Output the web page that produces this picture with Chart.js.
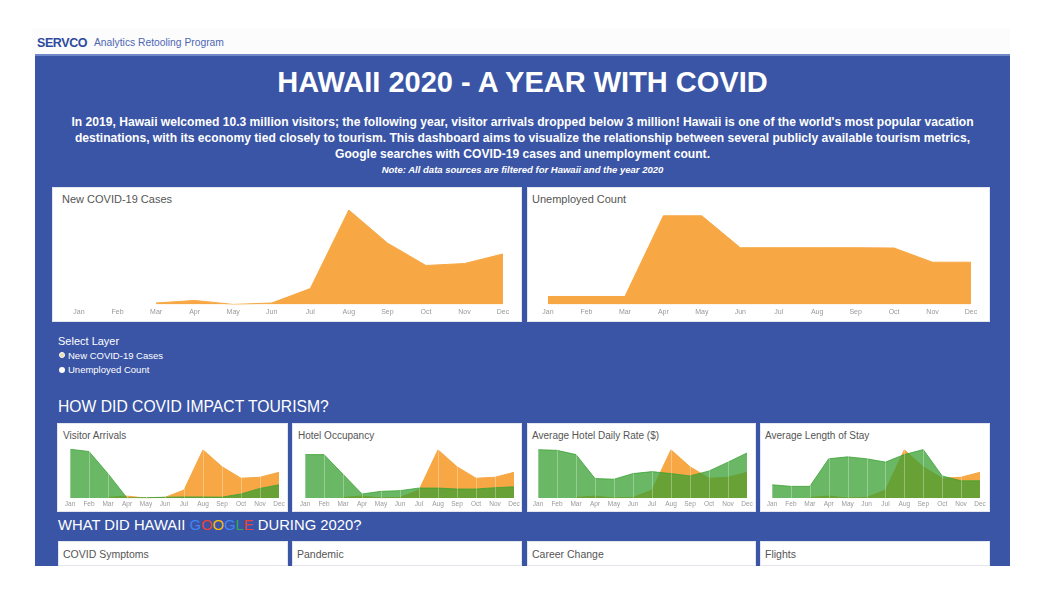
<!DOCTYPE html>
<html><head><meta charset="utf-8">
<script src="https://cdn.jsdelivr.net/npm/chart.js@4.4.0/dist/chart.umd.min.js"></script>
<style>
body{margin:0;width:1048px;height:590px;background:#fff;position:relative;overflow:hidden;font-family:"Liberation Sans",Arial,sans-serif;}
.a{position:absolute;}
#hdr{left:32px;top:28px;width:978px;height:26px;background:#fcfcfd;}
#logo{left:37px;top:36px;font-weight:bold;font-size:12.5px;color:#2e4a9c;letter-spacing:-0.4px;}
#sub{left:94px;top:37px;font-size:10.3px;color:#4d66b3;}
#dash{left:35px;top:54px;width:975px;height:512px;background:#3a55a5;border-top:2px solid #7088c8;box-sizing:border-box;}
#title{left:35px;width:975px;top:66px;text-align:center;color:#fff;font-weight:bold;font-size:29px;}
#para{left:35px;width:975px;top:114px;text-align:center;color:#fff;font-weight:bold;font-size:12.1px;line-height:16px;}
#note{left:35px;width:975px;top:164px;text-align:center;color:#fff;font-weight:bold;font-style:italic;font-size:9.5px;}
.panel{background:#fff;border:1px solid #e4e6ee;box-sizing:border-box;}
.pt{color:#555;font-size:11px;}
.st{color:#555;font-size:10px;}
.h2{color:#fff;left:58px;}
.lbl{color:#fff;}
.dot{width:6px;height:6px;border-radius:50%;background:#fff;}
</style></head>
<body>
<div id="hdr" class="a"></div>
<div id="logo" class="a">SERVCO</div>
<div id="sub" class="a">Analytics Retooling Program</div>
<div id="dash" class="a"></div>
<div id="title" class="a">HAWAII 2020 - A YEAR WITH COVID</div>
<div id="para" class="a">In 2019, Hawaii welcomed 10.3 million visitors; the following year, visitor arrivals dropped below 3 million! Hawaii is one of the world's most popular vacation<br>destinations, with its economy tied closely to tourism. This dashboard aims to visualize the relationship between several publicly available tourism metrics,<br>Google searches with COVID-19 cases and unemployment count.</div>
<div id="note" class="a">Note: All data sources are filtered for Hawaii and the year 2020</div>

<div class="a panel" style="left:52px;top:187px;width:470px;height:135px;"></div>
<div class="a pt" style="left:62px;top:193px;">New COVID-19 Cases</div>
<div class="a" style="left:52px;top:205px;"><canvas id="cCases" width="470" height="117"></canvas></div>

<div class="a panel" style="left:527px;top:187px;width:463px;height:135px;"></div>
<div class="a pt" style="left:532px;top:193px;">Unemployed Count</div>
<div class="a" style="left:527px;top:205px;"><canvas id="cUnemp" width="463" height="117"></canvas></div>

<div class="a lbl" style="left:58px;top:335px;font-size:11px;">Select Layer</div>
<div class="a dot" style="left:59px;top:352px;background:#e8dcb0;border:1.5px solid #fff;width:4px;height:4px;"></div>
<div class="a lbl" style="left:68px;top:350px;font-size:9.5px;">New COVID-19 Cases</div>
<div class="a dot" style="left:59px;top:367px;"></div>
<div class="a lbl" style="left:68px;top:364px;font-size:9.5px;">Unemployed Count</div>

<div class="a h2" style="top:398px;font-size:15.7px;">HOW DID COVID IMPACT TOURISM?</div>

<div class="a panel" style="left:57px;top:423px;width:231px;height:89px;"></div>
<div class="a st" style="left:63px;top:430px;">Visitor Arrivals</div>
<div class="a" style="left:57px;top:440px;"><canvas id="cVis" width="231" height="72"></canvas></div>

<div class="a panel" style="left:292px;top:423px;width:230px;height:89px;"></div>
<div class="a st" style="left:298px;top:430px;">Hotel Occupancy</div>
<div class="a" style="left:292px;top:440px;"><canvas id="cOcc" width="230" height="72"></canvas></div>

<div class="a panel" style="left:527px;top:423px;width:229px;height:89px;"></div>
<div class="a st" style="left:532px;top:430px;">Average Hotel Daily Rate ($)</div>
<div class="a" style="left:527px;top:440px;"><canvas id="cAdr" width="229" height="72"></canvas></div>

<div class="a panel" style="left:760px;top:423px;width:230px;height:89px;"></div>
<div class="a st" style="left:765px;top:430px;">Average Length of Stay</div>
<div class="a" style="left:760px;top:440px;"><canvas id="cLos" width="230" height="72"></canvas></div>

<div class="a h2" style="top:517px;font-size:14.8px;">WHAT DID HAWAII <span style="color:#4285f4">G</span><span style="color:#ea4335">O</span><span style="color:#fbbc05">O</span><span style="color:#4285f4">G</span><span style="color:#34a853">L</span><span style="color:#ea4335">E</span> DURING 2020?</div>

<div class="a panel" style="left:58px;top:541px;width:230px;height:25px;"></div>
<div class="a st" style="left:63px;top:548px;font-size:10.5px;">COVID Symptoms</div>
<div class="a panel" style="left:292px;top:541px;width:230px;height:25px;"></div>
<div class="a st" style="left:297px;top:548px;font-size:10.5px;">Pandemic</div>
<div class="a panel" style="left:527px;top:541px;width:229px;height:25px;"></div>
<div class="a st" style="left:532px;top:548px;font-size:10.5px;">Career Change</div>
<div class="a panel" style="left:760px;top:541px;width:230px;height:25px;"></div>
<div class="a st" style="left:765px;top:548px;font-size:10.5px;">Flights</div>

<script>
const months = ['Jan','Feb','Mar','Apr','May','Jun','Jul','Aug','Sep','Oct','Nov','Dec'];
const covidCases = [null,null,95,247,10,95,949,5600,3645,2316,2430,3000];
const unemployedCount = [14000,14000,14000,153000,153000,98000,98000,98000,98000,97500,73000,73000];
const visitorArrivals = [856000,816000,428000,4600,9100,17000,22000,22000,19000,74000,171000,235000];
const hotelOccupancy = [80.7,80.7,44.3,7.9,12.7,14.0,18.8,18.8,17.0,17.0,19.4,21.2];
const avgDailyRate = [330.5,326,297,134,129.5,167.5,181,167.5,152,185,245.6,308];
const avgLengthOfStay = [8.94,8.71,8.71,12.69,12.97,12.69,12.21,13.30,14.01,10.22,9.51,9.51];

const ORANGE = '#f7a845';
const GREEN = 'rgba(56,160,50,0.75)';
const FONT = 'Liberation Sans';

const vlines = {
  id:'vlines',
  afterDatasetsDraw(chart){
    const {ctx, chartArea:a, scales:{x}} = chart;
    ctx.save();
    ctx.strokeStyle='rgba(255,255,255,0.3)';
    ctx.lineWidth=1;
    months.forEach((m,i)=>{
      const px = Math.round(x.getPixelForValue(i))+0.5;
      ctx.beginPath(); ctx.moveTo(px,a.top); ctx.lineTo(px,a.bottom); ctx.stroke();
    });
    ctx.restore();
  }
};

function xAxis(size,pad){
  return {grid:{display:false,drawTicks:false},border:{display:false},
    ticks:{font:{size:size,family:FONT},color:'#999',padding:pad,autoSkip:false,maxRotation:0}};
}

function mainChart(id, data, max, l, r){
  new Chart(document.getElementById(id),{
    type:'line',
    data:{labels:months,datasets:[{data:data,fill:'origin',backgroundColor:ORANGE,borderColor:ORANGE,borderWidth:1,pointRadius:0,tension:0}]},
    options:{responsive:false,animation:false,
      layout:{padding:{left:l,right:r,top:5,bottom:3}},
      plugins:{legend:{display:false},tooltip:{enabled:false}},
      scales:{x:xAxis(7,3),y:{display:false,min:0,max:max}}}
  });
}
mainChart('cCases', covidCases, 5600, 27, 19);
mainChart('cUnemp', unemployedCount, 163000, 21, 19);

function smallChart(id, data, min, max, l, r){
  new Chart(document.getElementById(id),{
    type:'line',
    data:{labels:months,datasets:[
      {data:data,yAxisID:'y',fill:'start',backgroundColor:GREEN,borderColor:GREEN,borderWidth:1,pointRadius:0,tension:0},
      {data:covidCases,yAxisID:'y2',fill:'start',backgroundColor:ORANGE,borderColor:ORANGE,borderWidth:1,pointRadius:0,tension:0}
    ]},
    options:{responsive:false,animation:false,
      layout:{padding:{left:l,right:r,top:9,bottom:2}},
      plugins:{legend:{display:false},tooltip:{enabled:false}},
      scales:{x:xAxis(6.5,2),y:{display:false,min:min,max:max},y2:{display:false,min:0,max:5700}}},
    plugins:[vlines]
  });
}
smallChart('cVis', visitorArrivals, 0, 860000, 13, 9);
smallChart('cOcc', hotelOccupancy, 0, 91, 13, 8);
smallChart('cAdr', avgDailyRate, 0, 335, 11, 9);
smallChart('cLos', avgLengthOfStay, 7, 14.1, 12, 10);
</script>
</body></html>
